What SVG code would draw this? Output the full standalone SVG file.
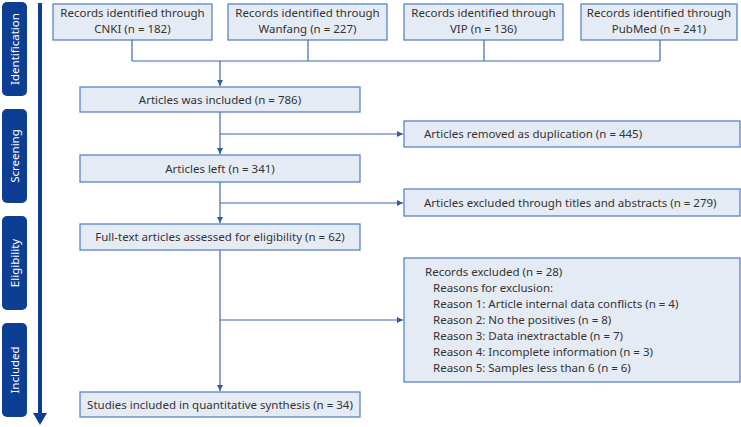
<svg xmlns="http://www.w3.org/2000/svg" width="741" height="427" viewBox="0 0 741 427">
<defs>
<style>
.box{fill:#e5ebf4;stroke:#5a84c4;stroke-width:1.3}
.t{font-family:"Noto Sans","Liberation Sans",Arial,sans-serif;font-size:11.5px;fill:#333}
.c{text-anchor:middle}
.pill{fill:#0c3f93}
.pt{font-family:"Noto Sans","Liberation Sans",Arial,sans-serif;font-size:11.5px;fill:#fff;text-anchor:middle}
.ln{fill:none;stroke:#3d67b4;stroke-width:1.2}
</style>
<marker id="ah" markerWidth="8" markerHeight="8" refX="6" refY="3" orient="auto" markerUnits="userSpaceOnUse">
<path d="M0,0 L6,3 L0,6 Z" fill="#2f5cab"/>
</marker>
</defs>
<rect width="741" height="427" fill="#fff"/>

<g id="stages">
<rect class="pill" x="2" y="2" width="25" height="94" rx="5"/>
<text class="pt" transform="translate(18.5,49) rotate(-90)">Identification</text>
<rect class="pill" x="2" y="109" width="25" height="94" rx="5"/>
<text class="pt" transform="translate(18.5,156) rotate(-90)">Screening</text>
<rect class="pill" x="2" y="216" width="25" height="94" rx="5"/>
<text class="pt" transform="translate(18.5,263) rotate(-90)">Eligibility</text>
<rect class="pill" x="2" y="323" width="25" height="94" rx="5"/>
<text class="pt" transform="translate(18.5,370) rotate(-90)">Included</text>
<line x1="40" y1="3" x2="40" y2="414" stroke="#0c3f93" stroke-width="4"/>
<polygon points="33,413 47,413 40,425" fill="#0c3f93"/>
</g>

<g id="connectors">
<path class="ln" d="M132,40 V61 M308,40 V61 M484,40 V61 M660,40 V61 M132,61 H660"/>
<path class="ln" d="M220,61 V86" marker-end="url(#ah)"/>
<path class="ln" d="M220,112 V154" marker-end="url(#ah)"/>
<path class="ln" d="M220,134 H403" marker-end="url(#ah)"/>
<path class="ln" d="M220,182 V223" marker-end="url(#ah)"/>
<path class="ln" d="M220,203 H403" marker-end="url(#ah)"/>
<path class="ln" d="M220,250 V391" marker-end="url(#ah)"/>
<path class="ln" d="M220,320 H403" marker-end="url(#ah)"/>
</g>

<g id="cnki">
<rect class="box" x="53" y="4" width="159" height="36"/>
<text class="t c" x="132.5" y="17">Records identified through</text>
<text class="t c" x="132.5" y="33">CNKI (n = 182)</text>
</g>
<g id="wanfang">
<rect class="box" x="228" y="4" width="159" height="36"/>
<text class="t c" x="307.5" y="17">Records identified through</text>
<text class="t c" x="307.5" y="33">Wanfang (n = 227)</text>
</g>
<g id="vip">
<rect class="box" x="404" y="4" width="159" height="36"/>
<text class="t c" x="483.5" y="17">Records identified through</text>
<text class="t c" x="483.5" y="33">VIP (n = 136)</text>
</g>
<g id="pubmed">
<rect class="box" x="581" y="4" width="156" height="36"/>
<text class="t c" x="659" y="17">Records identified through</text>
<text class="t c" x="659" y="33">PubMed (n = 241)</text>
</g>

<g id="included786">
<rect class="box" x="80" y="87" width="280" height="25"/>
<text class="t c" x="220" y="104">Articles was included (n = 786)</text>
</g>
<g id="duplication">
<rect class="box" x="404" y="121" width="336" height="26"/>
<text class="t" x="424" y="138">Articles removed as duplication (n = 445)</text>
</g>
<g id="left341">
<rect class="box" x="80" y="155" width="280" height="27"/>
<text class="t c" x="220" y="172.5">Articles left (n = 341)</text>
</g>
<g id="titles">
<rect class="box" x="404" y="189" width="336" height="27"/>
<text class="t" x="424" y="206.5">Articles excluded through titles and abstracts (n = 279)</text>
</g>
<g id="fulltext">
<rect class="box" x="80" y="224" width="280" height="26"/>
<text class="t c" x="220" y="241">Full-text articles assessed for eligibility (n = 62)</text>
</g>
<g id="excluded28">
<rect class="box" x="404" y="258" width="336" height="124"/>
<text class="t" x="425" y="276">Records excluded (n = 28)</text>
<text class="t" x="433" y="292">Reasons for exclusion:</text>
<text class="t" x="433" y="308">Reason 1: Article internal data conflicts (n = 4)</text>
<text class="t" x="433" y="324">Reason 2: No the positives (n = 8)</text>
<text class="t" x="433" y="340">Reason 3: Data inextractable (n = 7)</text>
<text class="t" x="433" y="356">Reason 4: Incomplete information (n = 3)</text>
<text class="t" x="433" y="372">Reason 5: Samples less than 6 (n = 6)</text>
</g>
<g id="studies34">
<rect class="box" x="80" y="392" width="280" height="25"/>
<text class="t c" x="220" y="409">Studies included in quantitative synthesis (n = 34)</text>
</g>
</svg>
